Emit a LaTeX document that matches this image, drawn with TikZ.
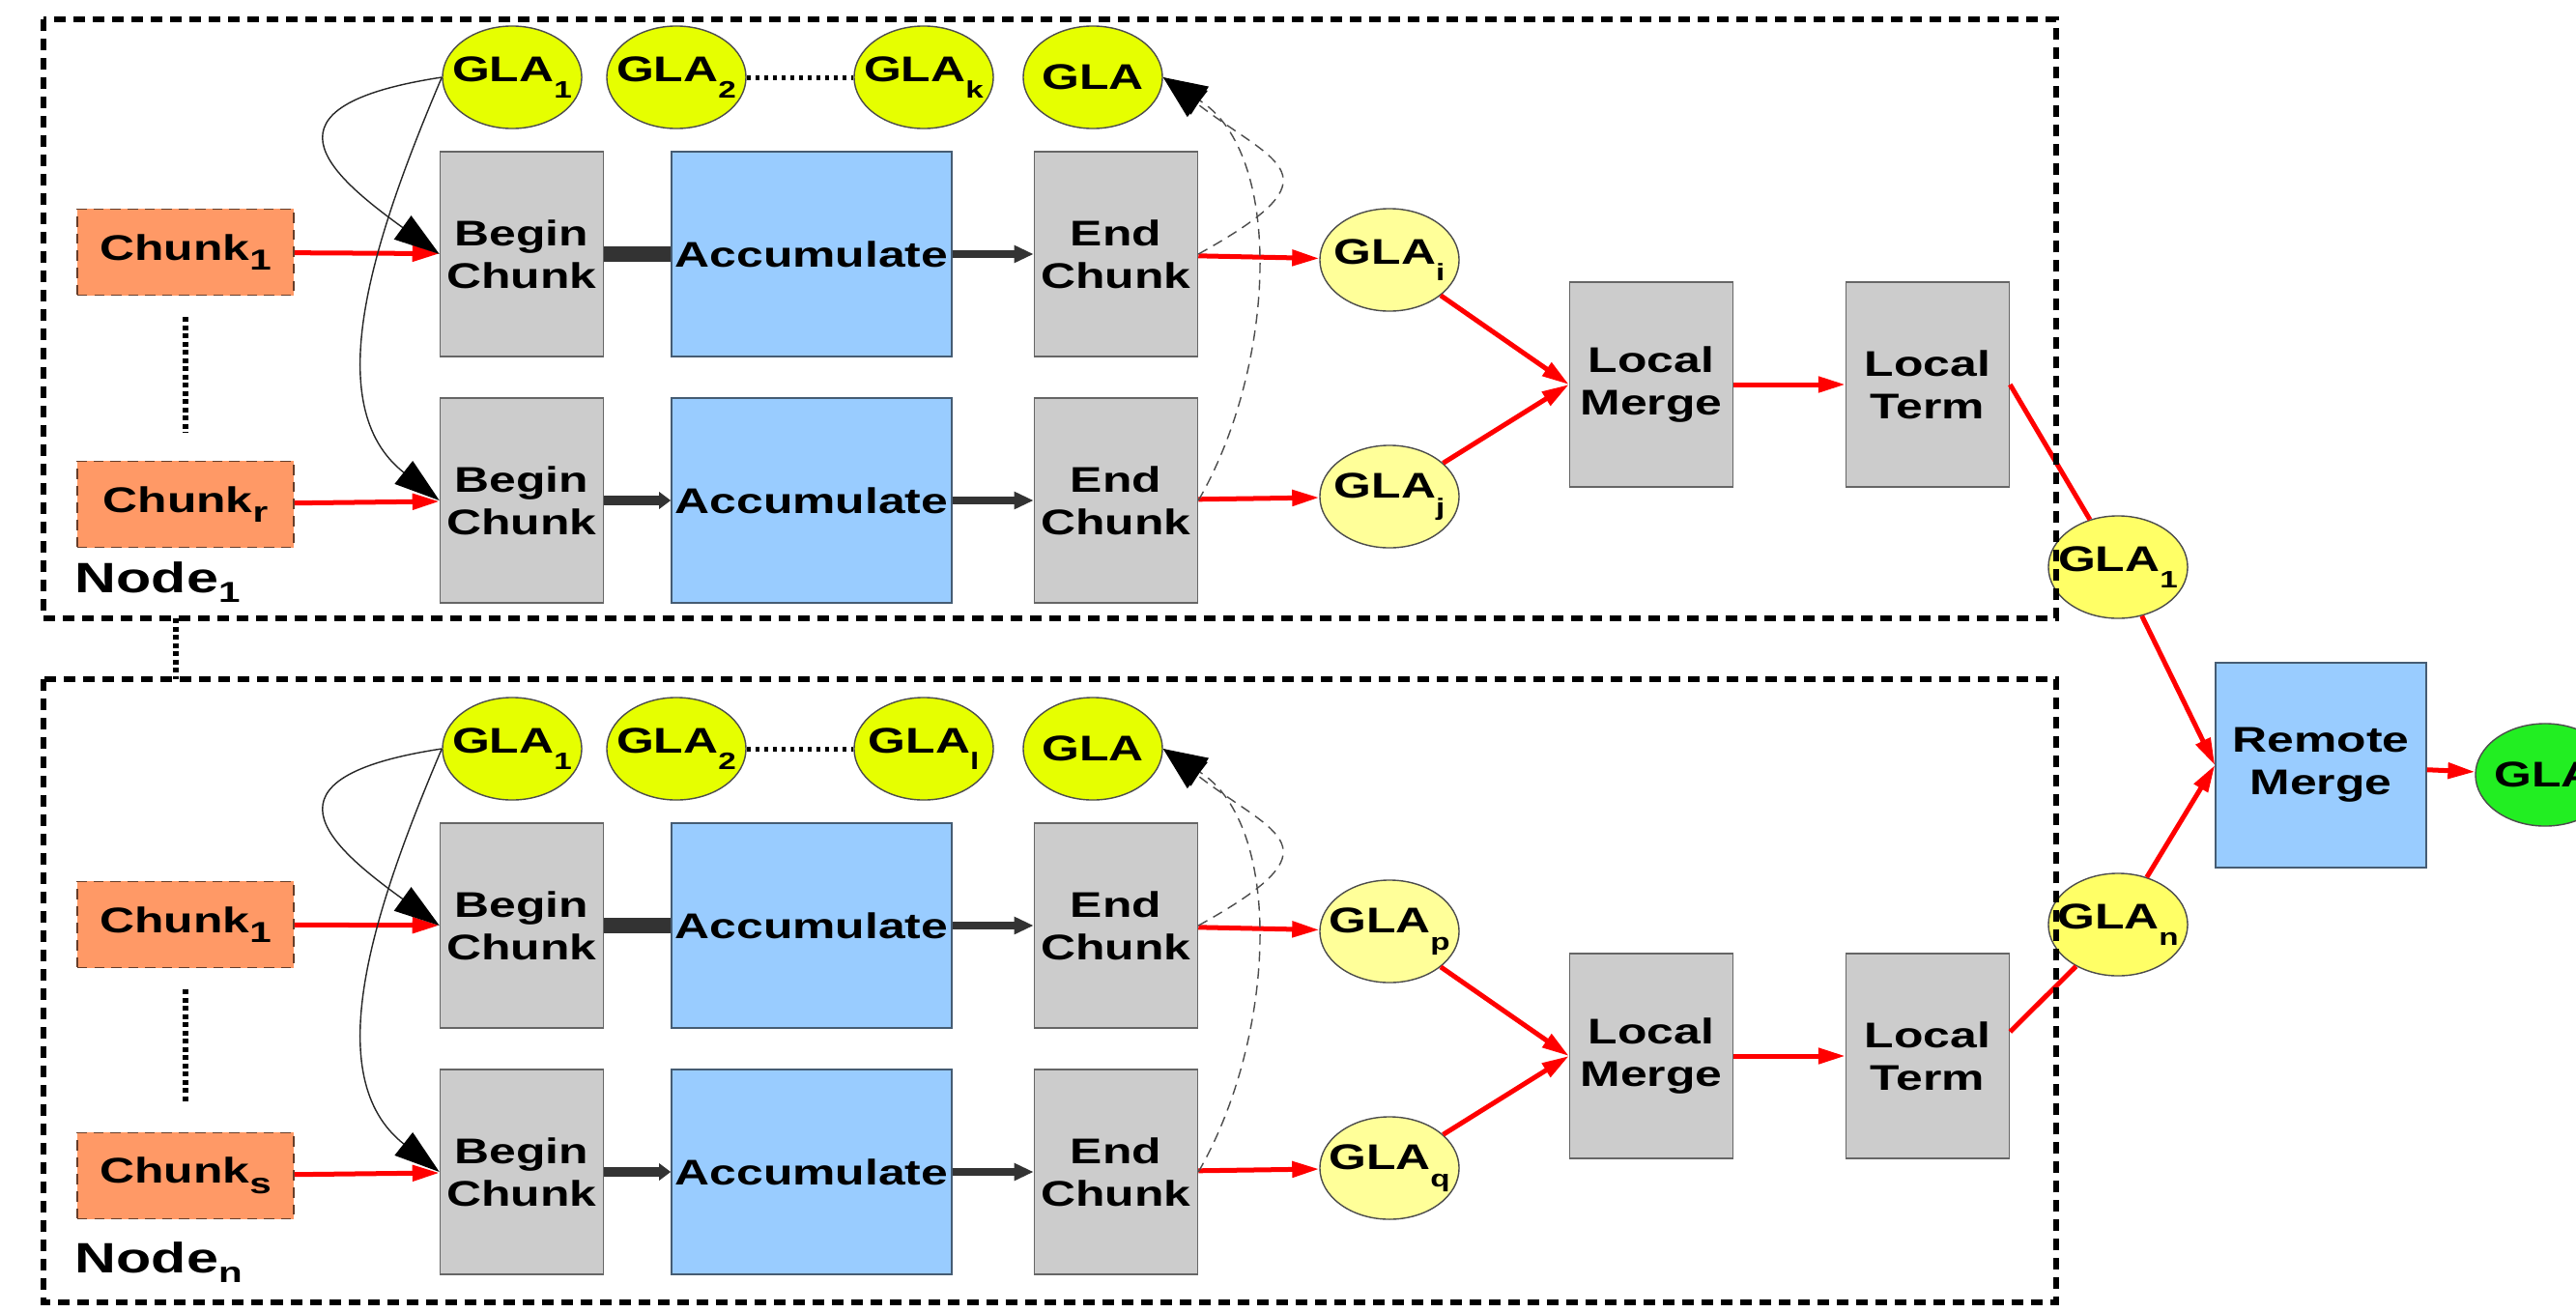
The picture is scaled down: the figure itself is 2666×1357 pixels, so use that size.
\documentclass[tikz,border=0pt]{standalone}
\usepackage{fontspec}
\setmainfont{Liberation Sans}[FakeStretch=1.35]
\usetikzlibrary{arrows.meta,shapes.geometric}
\newcommand{\gs}[1]{\raisebox{-5pt}{\fontsize{7}{7}\selectfont #1}}
\newcommand{\cs}[1]{\raisebox{-3pt}{\fontsize{8.5}{8.5}\selectfont #1}}
\definecolor{glatop}{HTML}{E6FF00}
\definecolor{glamid}{HTML}{FFFF99}
\definecolor{glaout}{HTML}{FFFF66}
\definecolor{glares}{HTML}{22EE22}
\definecolor{boxgray}{HTML}{CCCCCC}
\definecolor{boxblue}{HTML}{99CCFF}
\definecolor{chunkor}{HTML}{FF9966}
\definecolor{arrdark}{HTML}{333333}
\tikzset{
  txt/.style      ={font=\fontsize{10.5}{12.5}\selectfont\bfseries, align=center, inner sep=0pt},
  gbox/.style     ={txt, rectangle, fill=boxgray, draw=black!60, minimum width=1.69cm, minimum height=2.12cm},
  abox/.style     ={txt, rectangle, fill=boxblue, draw=black!55!boxblue, minimum width=2.9cm, minimum height=2.12cm},
  chunk/.style    ={txt, rectangle, fill=chunkor, draw=black!60!chunkor, densely dashed, minimum width=2.24cm, minimum height=0.89cm},
  gla/.style      ={txt, ellipse, draw=black!70, inner xsep=-3mm, minimum width=1.44cm, minimum height=1.06cm},
  lbl/.style      ={font=\fontsize{12.5}{14}\selectfont\bfseries, anchor=base west, inner sep=0pt},
  redarr/.style   ={red, line width=0.05cm, -{Triangle[length=0.28cm,width=0.16cm]}},
  redline/.style  ={red, line width=0.05cm},
  thickbar/.style ={arrdark, line width=0.165cm},
  sdarr/.style    ={arrdark, line width=0.1cm, -{Triangle[length=0.12cm,width=0.17cm]}},
  darr/.style     ={arrdark, line width=0.08cm, -{Triangle[length=0.2cm,width=0.17cm]}},
  curv/.style     ={black!85, line width=0.4pt, -{Triangle[length=0.47cm,width=0.3cm,color=black]}},
  dcurv/.style    ={black!70, line width=0.4pt, dash pattern=on 3pt off 2pt, -{Triangle[length=0.45cm,width=0.34cm,color=black]}},
  hdots/.style    ={line width=0.05cm, dash pattern=on 0.04cm off 0.05cm},
  vdots/.style    ={line width=0.055cm, dash pattern=on 0.05cm off 0.035cm},
  nodeframe/.style={line width=0.06cm, dash pattern=on 0.12cm off 0.08cm},
}

\begin{document}
\begin{tikzpicture}[x=0.01cm, y=-0.01cm]
  \useasboundingbox (0,0) rectangle (2666,1357);

  % Node_1
  \node[gla, fill=glatop] (t1)  at ( 530,  80) {GLA\gs{1}};
  \node[gla, fill=glatop] (t2)  at ( 700,  80) {GLA\gs{2}};
  \node[gla, fill=glatop] (tk)  at ( 956,  80) {GLA\gs{k}};
  \node[gla, fill=glatop] (tg)  at (1131,  80) {GLA};
  \node[chunk]            (tc1) at ( 192, 261) {Chunk\cs{1}};
  \node[chunk]            (tcr) at ( 192, 522) {Chunk\cs{r}};
  \node[gbox]             (tb1) at ( 540, 263) {Begin\\Chunk};
  \node[abox]             (ta1) at ( 840, 263) {Accumulate};
  \node[gbox]             (te1) at (1155, 263) {End\\Chunk};
  \node[gbox]             (tb2) at ( 540, 518) {Begin\\Chunk};
  \node[abox]             (ta2) at ( 840, 518) {Accumulate};
  \node[gbox]             (te2) at (1155, 518) {End\\Chunk};
  \node[gla, fill=glamid] (ti)  at (1438, 269) {GLA\gs{i}};
  \node[gla, fill=glamid] (tj)  at (1438, 514) {GLA\gs{j}};
  \node[gbox]             (tlm) at (1709, 398) {Local\\Merge};
  \node[gbox]             (tlt) at (1995, 398) {Local\\Term};
  \node[lbl]              (tn)  at (  77, 613) {Node\cs{1}};

  % Node_n
  \node[gla, fill=glatop] (b1)  at ( 530, 775) {GLA\gs{1}};
  \node[gla, fill=glatop] (b2)  at ( 700, 775) {GLA\gs{2}};
  \node[gla, fill=glatop] (bl)  at ( 956, 775) {GLA\gs{l}};
  \node[gla, fill=glatop] (bg)  at (1131, 775) {GLA};
  \node[chunk]            (bc1) at ( 192, 957) {Chunk\cs{1}};
  \node[chunk]            (bcs) at ( 192,1217) {Chunk\cs{s}};
  \node[gbox]             (bb1) at ( 540, 958) {Begin\\Chunk};
  \node[abox]             (ba1) at ( 840, 958) {Accumulate};
  \node[gbox]             (be1) at (1155, 958) {End\\Chunk};
  \node[gbox]             (bb2) at ( 540,1213) {Begin\\Chunk};
  \node[abox]             (ba2) at ( 840,1213) {Accumulate};
  \node[gbox]             (be2) at (1155,1213) {End\\Chunk};
  \node[gla, fill=glamid] (bp)  at (1438, 964) {GLA\gs{p}};
  \node[gla, fill=glamid] (bq)  at (1438,1209) {GLA\gs{q}};
  \node[gbox]             (blm) at (1709,1093) {Local\\Merge};
  \node[gbox]             (blt) at (1995,1093) {Local\\Term};
  \node[lbl]              (bn)  at (  77,1317) {Node\cs{n}};

  % remote side
  \node[gla, fill=glaout] (o1)  at (2192, 587) {GLA\gs{1}};
  \node[gla, fill=glaout] (on)  at (2192, 957) {GLA\gs{n}};
  \node[abox, minimum width=2.18cm] (rm) at (2402, 792) {Remote\\Merge};
  \node[gla, fill=glares] (res) at (2634, 802) {GLA};

  \draw[hdots] (t2) -- (tk);
  \draw[hdots] (b2) -- (bl);
  \draw[vdots, shorten <=0.22cm, shorten >=0.29cm] (tc1) -- (tcr);
  \draw[vdots, shorten <=0.22cm, shorten >=0.29cm] (bc1) -- (bcs);

  \draw[redarr] (tc1) -- (tb1);
  \draw[redarr] (tcr) -- (tb2);
  \draw[thickbar] (tb1) -- (ta1);
  \draw[sdarr] (tb2) -- (ta2);
  \draw[darr] (ta1) -- (te1);
  \draw[darr] (ta2) -- (te2);
  \draw[redarr] (te1) -- (ti);
  \draw[redarr] (te2) -- (tj);
  \draw[redarr] (ti) -- (tlm.west);
  \draw[redarr] (tj) -- (tlm.west);
  \draw[redarr] (tlm) -- (tlt);
  \draw[redline] (tlt.east) -- (o1);
  \draw[curv] (t1.west) .. controls (260,110) and (340,180) .. (tb1.west);
  \draw[curv] (t1.west) .. controls (385,250) and (330,420) .. (tb2.west);
  \draw[dcurv] (te1.east) .. controls (1390,180) and (1320,170) .. (tg.east);
  \draw[dcurv] (te2.east) .. controls (1320,380) and (1330,160) .. (tg.east);

  \draw[redarr] (bc1) -- (bb1);
  \draw[redarr] (bcs) -- (bb2);
  \draw[thickbar] (bb1) -- (ba1);
  \draw[sdarr] (bb2) -- (ba2);
  \draw[darr] (ba1) -- (be1);
  \draw[darr] (ba2) -- (be2);
  \draw[redarr] (be1) -- (bp);
  \draw[redarr] (be2) -- (bq);
  \draw[redarr] (bp) -- (blm.west);
  \draw[redarr] (bq) -- (blm.west);
  \draw[redarr] (blm) -- (blt);
  \draw[redline] ([yshift=0.25cm]blt.east) -- (on);
  \draw[curv] (b1.west) .. controls (260,805) and (340,875) .. (bb1.west);
  \draw[curv] (b1.west) .. controls (385,945) and (330,1115) .. (bb2.west);
  \draw[dcurv] (be1.east) .. controls (1390,875) and (1320,865) .. (bg.east);
  \draw[dcurv] (be2.east) .. controls (1320,1075) and (1330,855) .. (bg.east);

  \draw[redarr] (o1) -- (rm.west);
  \draw[redarr] (on) -- (rm.west);
  \draw[redarr] (rm) -- (res);

  \draw[nodeframe] (45,20) rectangle (2128,640);
  \draw[nodeframe] (45,703) rectangle (2128,1348);
  \coordinate (ft) at (182,640);
  \coordinate (fb) at (182,703);
  \draw[vdots] (ft) -- (fb);
\end{tikzpicture}
\end{document}
